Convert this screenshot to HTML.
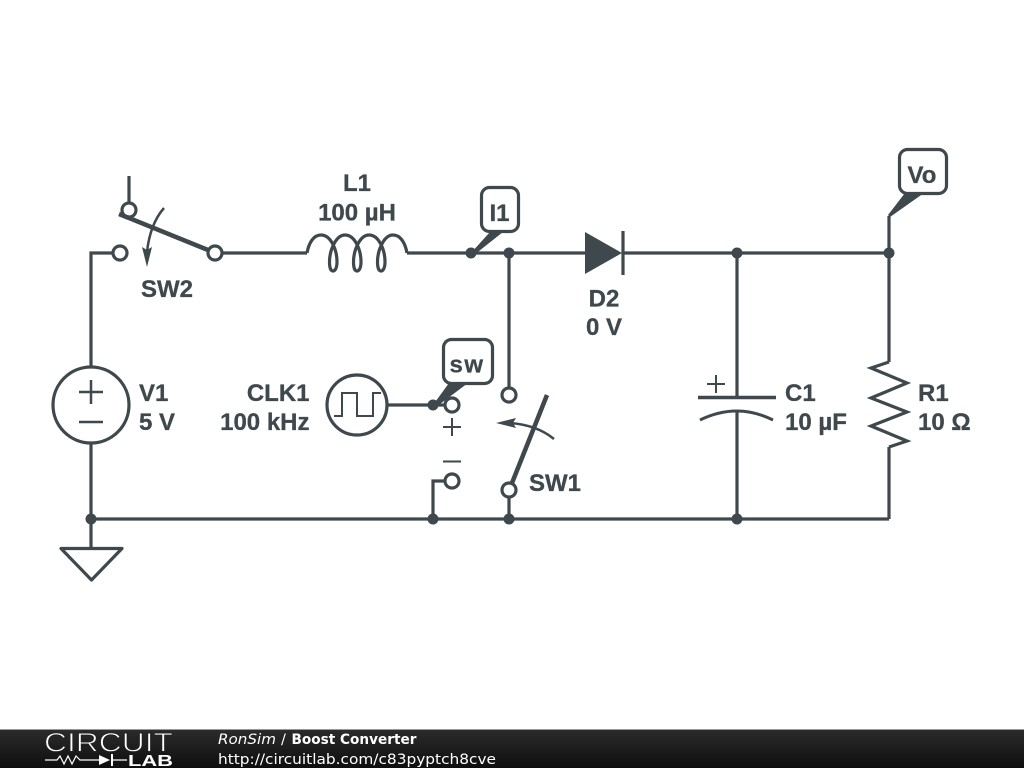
<!DOCTYPE html>
<html><head><meta charset="utf-8"><style>
html,body{margin:0;padding:0;background:#fff;width:1024px;height:768px;overflow:hidden}
svg{display:block}
.w{fill:none;stroke:#3e484d;stroke-width:3.200}
.c{fill:#fff;stroke:#3e484d;stroke-width:3.200}
.t{fill:#3e484d;stroke:none}
.l{font-family:"Liberation Sans",Arial,sans-serif;font-weight:700;font-size:24px;fill:#3e484d;stroke:#3e484d;stroke-width:0.300}
.f{font-family:"DejaVu Sans",sans-serif;font-size:14.500px;fill:#fff}
</style></head><body>
<svg width="1024" height="768" viewBox="0 0 1024 768" xmlns="http://www.w3.org/2000/svg">
<defs><linearGradient id="g" x1="0" y1="0" x2="0" y2="1"><stop offset="0" stop-color="#2c2c2c"/><stop offset="1" stop-color="#0e0e0e"/></linearGradient></defs>
<rect width="1024" height="768" fill="#fff"/>
<!-- wires -->
<path class="w" d="M120 253H91V366M91 443V548M129 176V205M222 253H307M407 253H585M622 253H889M509 253V390M509 495V519M91 519H889M737 253V397M737 411V519M889 216V362M889 447V519M388 405H447M447 481H433V519"/>
<!-- inductor -->
<path class="w" d="M307 253C309 242 314 235 321 235C331 235 337 250 337 262C337 268 335 271 333 271C331 271 329.500 268 329.500 262C329.500 250 336 235 345 235C355 235 361 250 361 262C361 268 359 271 357 271C355 271 353.500 268 353.500 262C353.500 250 360 235 369 235C379 235 385 250 385 262C385 268 383 271 381 271C379 271 377.500 268 377.500 262C377.500 250 384 235 393 235C400 235 405 242 407 253"/>
<!-- SW2 -->
<circle class="c" cx="129" cy="210" r="7"/>
<circle class="c" cx="120" cy="253" r="7"/>
<path d="M119 214L208 250" fill="none" stroke="#3e484d" stroke-width="4.500"/>
<circle class="c" cx="215" cy="253" r="7"/>
<path d="M164 208Q150 224 147 252" fill="none" stroke="#3e484d" stroke-width="2.500"/>
<path class="t" d="M147 267L142 247L147 250L152 247Z"/>
<!-- diode -->
<path class="t" d="M585 232L622 253L585 274Z"/>
<path class="w" d="M623 231V275"/>
<!-- V1 -->
<circle class="c" cx="91" cy="405" r="38"/>
<path d="M79 392H103M91 380V404M79 422H103" fill="none" stroke="#3e484d" stroke-width="2.500"/>
<!-- ground -->
<path class="c" d="M61 548.500H122L91.500 580Z" stroke-linejoin="round"/>
<!-- CLK1 -->
<circle class="c" cx="357" cy="405" r="30"/>
<path d="M334 416H342V393H357V416H373V393H381" fill="none" stroke="#3e484d" stroke-width="2"/>
<circle class="c" cx="452" cy="405" r="7"/>
<circle class="c" cx="452" cy="481" r="7"/>
<path d="M443 427H461M452 418V436M443 461.500H461" fill="none" stroke="#3e484d" stroke-width="2"/>
<!-- SW1 -->
<circle class="c" cx="509" cy="395" r="7"/>
<circle class="c" cx="509" cy="490" r="7"/>
<path d="M512 483L547 395" fill="none" stroke="#3e484d" stroke-width="4.500"/>
<path d="M554 439Q537 425 510 423" fill="none" stroke="#3e484d" stroke-width="2.500"/>
<path class="t" d="M496 423L516 418L513 423L516 428Z"/>
<!-- C1 -->
<path d="M698 397.500H776" fill="none" stroke="#3e484d" stroke-width="3.500"/>
<path d="M700 420Q737 402 773 420" fill="none" stroke="#3e484d" stroke-width="3"/>
<path d="M707 384H725M716 375V393" fill="none" stroke="#3e484d" stroke-width="2"/>
<!-- R1 -->
<path class="w" d="M889 362L871 368L907 383L871 398L907 412L871 426L907 441L889 447"/>
<!-- nodes -->
<g class="t"><circle cx="471" cy="253" r="5.500"/><circle cx="509" cy="253" r="5.500"/><circle cx="737" cy="253" r="5.500"/><circle cx="889" cy="253" r="5.500"/><circle cx="91" cy="519" r="5.500"/><circle cx="433" cy="519" r="5.500"/><circle cx="509" cy="519" r="5.500"/><circle cx="737" cy="519" r="5.500"/><circle cx="433" cy="405" r="5.500"/></g>
<!-- flags -->
<path class="t" d="M471 253L490 232H503L474 255Z"/>
<rect class="c" x="481.500" y="187.500" width="37" height="44" rx="8"/>
<path class="t" d="M433 405L449 383H468L436 407Z"/>
<rect class="c" x="443.500" y="339.500" width="49" height="44" rx="8"/>
<path class="t" d="M888 215L905 193H924L890 217Z"/>
<rect class="c" x="899.500" y="149.500" width="47" height="44" rx="8"/>
<!-- labels -->
<g class="l">
<text x="357" y="191" text-anchor="middle">L1</text>
<text x="357" y="220.500" text-anchor="middle">100 µH</text>
<text x="141" y="297">SW2</text>
<text x="499.500" y="221" text-anchor="middle">I1</text>
<text x="922" y="183" text-anchor="middle">Vo</text>
<text x="467" y="372.500" text-anchor="middle" letter-spacing="1.500">sw</text>
<text x="604" y="306.500" text-anchor="middle">D2</text>
<text x="604" y="335" text-anchor="middle">0 V</text>
<text x="139" y="401">V1</text>
<text x="139" y="430">5 V</text>
<text x="309.500" y="401" text-anchor="end">CLK1</text>
<text x="309.500" y="430" text-anchor="end">100 kHz</text>
<text x="529" y="491">SW1</text>
<text x="785" y="401">C1</text>
<text x="785" y="430">10 µF</text>
<text x="918" y="401">R1</text>
<text x="918" y="430">10 Ω</text>
</g>
<!-- footer -->
<rect x="0" y="729" width="1024" height="39" fill="url(#g)"/>
<rect x="0" y="729" width="1024" height="1" fill="#999"/>
<text x="44" y="751.500" font-family="Liberation Sans,sans-serif" font-size="27" fill="#fff" stroke="#222" stroke-width="0.900" textLength="129" lengthAdjust="spacingAndGlyphs">CIRCUIT</text>
<path d="M45 760H57L60 756L64 764L68 756L72 764L76 756L80 760H99M111 760H127" fill="none" stroke="#fff" stroke-width="1.200"/>
<path d="M99 755L110 760L99 765ZM111 754H113V766H111Z" fill="#fff"/>
<text x="128" y="766" font-family="Liberation Sans,sans-serif" font-size="16" font-weight="700" fill="#fff" textLength="45" lengthAdjust="spacingAndGlyphs">LAB</text>
<text class="f" x="218" y="744" font-style="italic" textLength="58" lengthAdjust="spacingAndGlyphs">RonSim</text>
<text class="f" x="281" y="744">/</text>
<text class="f" x="291.500" y="744" font-weight="700" textLength="125" lengthAdjust="spacingAndGlyphs">Boost Converter</text>
<text class="f" x="218" y="764" textLength="278" lengthAdjust="spacingAndGlyphs">http://circuitlab.com/c83pyptch8cve</text>
</svg>
</body></html>
